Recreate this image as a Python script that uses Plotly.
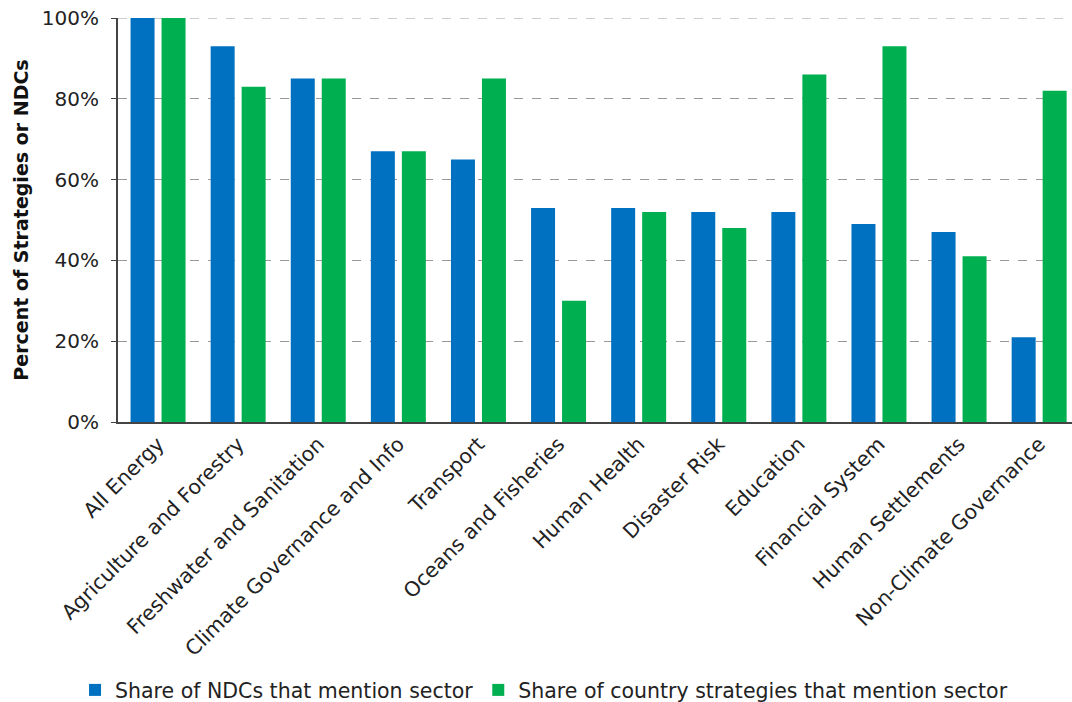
import plotly.graph_objects as go

categories = ["All Energy", "Agriculture and Forestry", "Freshwater and Sanitation",
              "Climate Governance and Info", "Transport", "Oceans and Fisheries",
              "Human Health", "Disaster Risk", "Education", "Financial System",
              "Human Settlements", "Non-Climate Governance"]
ndc_share = [100, 93, 85, 67, 65, 53, 53, 52, 52, 49, 47, 21]
strategy_share = [100, 83, 85, 67, 85, 30, 52, 48, 86, 93, 41, 82]
y_ticks = [0, 20, 40, 60, 80, 100]
y_tick_labels = ["0%", "20%", "40%", "60%", "80%", "100%"]

FONT = "DejaVu Sans"
fig = go.Figure()
fig.add_trace(go.Bar(x=categories, y=ndc_share, name="Share of NDCs that mention sector",
                     marker=dict(color="#0070C0", line=dict(width=0))))
fig.add_trace(go.Bar(x=categories, y=strategy_share, name="Share of country strategies that mention sector",
                     marker=dict(color="#00B050", line=dict(width=0))))

# top gridline (plotly skips the gridline on the plot edge)
fig.add_shape(type="line", xref="paper", yref="y", x0=0, x1=1,
              y0=y_ticks[-1], y1=y_ticks[-1], layer="below",
              line=dict(color="#999999", width=1, dash="dash"))

fig.update_layout(
    width=1072, height=702,
    margin=dict(l=118, r=0, t=18, b=280, autoexpand=False),
    paper_bgcolor="white", plot_bgcolor="white",
    barmode="group", bargap=0.226, bargroupgap=0.226,
    font=dict(family=FONT, size=20, color="#222222"),
    showlegend=True,
    legend=dict(orientation="h", xref="container", yref="container",
                x=0.07, y=0.017, xanchor="left", yanchor="middle",
                font=dict(size=20.5, color="#222222"), itemwidth=30),
    xaxis=dict(tickangle=-45, showline=True, linecolor="#444444", linewidth=2,
               range=[-0.5, 11.41],
               ticks="", tickfont=dict(size=20.5, color="#222222")),
    yaxis=dict(range=[0, 100], tickvals=y_ticks, ticktext=y_tick_labels,
               showgrid=True, gridcolor="#999999", griddash="dash", gridwidth=1,
               showline=True, linecolor="#444444", linewidth=2,
               ticks="outside", ticklen=5, tickcolor="#444444",
               ticklabelstandoff=8, ticklabeloverflow="allow",
               zeroline=False,
               tickfont=dict(size=20, color="#222222"),
               title=dict(text="<b>Percent of Strategies or NDCs</b>",
                          font=dict(size=19, color="#111111"), standoff=8)),
)
fig.write_html("out.html", config={"displayModeBar": False},
               post_script="document.body.style.margin='0';")
